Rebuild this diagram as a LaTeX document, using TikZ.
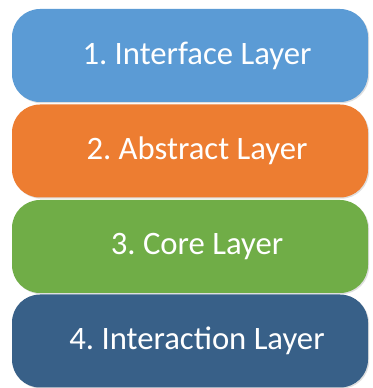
\documentclass[tikz,border=0pt]{standalone}
\usepackage{fontspec}
\setmainfont{Carlito}
\usetikzlibrary{shadows}
\definecolor{cA}{HTML}{5B9BD5}
\definecolor{cB}{HTML}{ED7D31}
\definecolor{cC}{HTML}{70AD47}
\definecolor{cD}{HTML}{386088}
\tikzset{
  layer/.style={rounded corners=28pt, minimum width=356pt, minimum height=93pt,
    inner sep=0pt, text=white, font=\fontsize{32.7}{38}\selectfont\frenchspacing,
    drop shadow={opacity=0.25, shadow xshift=1.2pt, shadow yshift=-1.2pt}}
}
\begin{document}
\begin{tikzpicture}[x=1pt,y=1pt]
\useasboundingbox (0,0) rectangle (372,388);
\node[layer, fill=cA] (l1) at (190,332.5) {\hspace*{14pt}1. Interface Layer};
\node[layer, fill=cB] (l2) at (190,237) {\hspace*{14pt}2. Abstract Layer};
\node[layer, fill=cC] (l3) at (190,141.5) {\hspace*{14pt}3. Core Layer};
\node[layer, fill=cD] (l4) at (190,47) {\hspace*{14pt}4. Interaction Layer};
\end{tikzpicture}
\end{document}
